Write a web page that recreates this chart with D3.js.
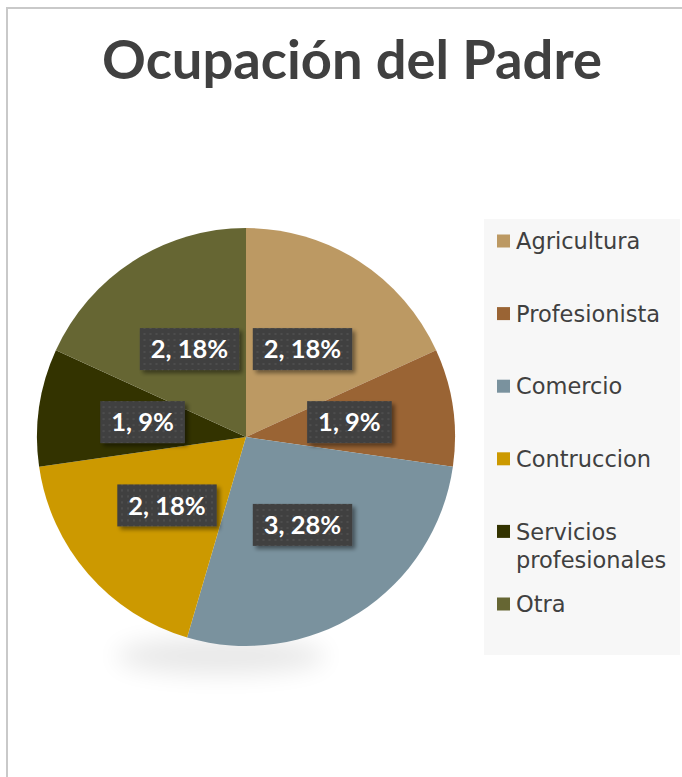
<!DOCTYPE html>
<html>
<head>
<meta charset="utf-8">
<script src="https://cdn.jsdelivr.net/npm/d3@7"></script>
<style>
  body { margin: 0; background: #fff; }
  svg { display: block; }
</style>
</head>
<body>
<svg id="chart" width="682" height="777"></svg>
<script>
// data
const categories = ["Agricultura", "Profesionista", "Comercio", "Contruccion", "Servicios profesionales", "Otra"];
const values = [2, 1, 3, 2, 1, 2];
const percentLabels = ["18%", "9%", "28%", "18%", "9%", "18%"];
const colors = ["#BC9963", "#9A6434", "#7A929E", "#CC9900", "#333300", "#666633"];
const legendLines = [["Agricultura"], ["Profesionista"], ["Comercio"], ["Contruccion"], ["Servicios", "profesionales"], ["Otra"]];

const width = 682, height = 777;
const cx = 246, cy = 437, radius = 209;

const svg = d3.select("#chart");
const defs = svg.append("defs");

// dotted pattern for label boxes
const pat = defs.append("pattern")
  .attr("id", "dots")
  .attr("patternUnits", "userSpaceOnUse")
  .attr("width", 6).attr("height", 6);
pat.append("rect").attr("width", 6).attr("height", 6).attr("fill", "#404040");
pat.append("rect").attr("x", 2).attr("y", 2).attr("width", 2).attr("height", 2).attr("fill", "#4e4e4e");

const lblShadow = defs.append("filter").attr("id", "lblShadow")
  .attr("x", "-20%").attr("y", "-30%").attr("width", "150%").attr("height", "170%");
lblShadow.append("feGaussianBlur").attr("in", "SourceAlpha").attr("stdDeviation", 2);
lblShadow.append("feOffset").attr("dx", 3).attr("dy", 3).attr("result", "b");
lblShadow.append("feComponentTransfer").append("feFuncA").attr("type", "linear").attr("slope", 0.45);
const m = lblShadow.append("feMerge");
m.append("feMergeNode");
m.append("feMergeNode").attr("in", "SourceGraphic");

const pieShadow = defs.append("filter").attr("id", "pieShadow")
  .attr("x", "-50%").attr("y", "-200%").attr("width", "200%").attr("height", "500%");
pieShadow.append("feGaussianBlur").attr("stdDeviation", 12);

// chart frame
svg.append("rect")
  .attr("x", 7).attr("y", 8)
  .attr("width", width + 10).attr("height", height + 10)
  .attr("fill", "#fff")
  .attr("stroke", "#c9c9c9")
  .attr("stroke-width", 2);

// title
const title = svg.append("text")
  .attr("x", 352).attr("y", 79)
  .attr("text-anchor", "middle")
  .attr("font-family", "Lato, 'Open Sans', sans-serif")
  .attr("font-weight", "bold")
  .attr("font-size", 52)
  .attr("fill", "#404040")
  .text("Ocupación del Padre");
// fit the title to the width seen in the picture
const tw = title.node().getComputedTextLength();
title.attr("font-size", 52 * 500 / tw);

// soft shadow under the pie
svg.append("ellipse")
  .attr("cx", cx - 25).attr("cy", cy + radius + 10)
  .attr("rx", 105).attr("ry", 18)
  .attr("fill", "#000")
  .attr("opacity", 0.09)
  .attr("filter", "url(#pieShadow)");

// pie
const pie = d3.pie().sort(null).value(d => d);
const arcs = pie(values);
const arc = d3.arc().innerRadius(0).outerRadius(radius);
const labelArc = d3.arc().innerRadius(radius / 2).outerRadius(radius / 2);

const g = svg.append("g").attr("transform", `translate(${cx},${cy})`);

g.selectAll("path.slice")
  .data(arcs)
  .enter()
  .append("path")
    .attr("class", "slice")
    .attr("d", arc)
    .attr("fill", (d, i) => colors[i]);

// data labels
const lbl = g.selectAll("g.lbl")
  .data(arcs)
  .enter()
  .append("g")
    .attr("class", "lbl")
    .attr("transform", d => `translate(${labelArc.centroid(d)})`);

lbl.append("rect").attr("fill", "url(#dots)").attr("filter", "url(#lblShadow)");

lbl.append("text")
  .attr("text-anchor", "middle")
  .attr("dy", "0.36em")
  .attr("font-family", "Lato, 'Open Sans', sans-serif")
  .attr("font-weight", "bold")
  .attr("font-size", 25.5)
  .attr("fill", "#fff")
  .text((d, i) => `${d.value}, ${percentLabels[i]}`);

lbl.each(function() {
  const t = d3.select(this).select("text").node().getComputedTextLength();
  const w = t + 22, h = 42;
  d3.select(this).select("rect")
    .attr("x", -w / 2).attr("y", -h / 2)
    .attr("width", w).attr("height", h);
});

// legend
const legend = svg.append("g");
legend.append("rect")
  .attr("x", 484).attr("y", 219)
  .attr("width", 196).attr("height", 436)
  .attr("fill", "#f7f7f7");

const ly = d3.scaleLinear().domain([0, categories.length - 1]).range([241, 604]);

const item = legend.selectAll("g.item")
  .data(categories)
  .enter()
  .append("g")
    .attr("class", "item")
    .attr("transform", (d, i) => `translate(497, ${ly(i)})`);

item.append("rect")
  .attr("x", 0).attr("y", -6.5)
  .attr("width", 13).attr("height", 13)
  .attr("fill", (d, i) => colors[i]);

item.append("text")
  .attr("x", 19)
  .attr("font-family", "'DejaVu Sans', sans-serif")
  .attr("font-size", 22.5)
  .attr("fill", "#404040")
  .selectAll("tspan")
  .data((d, i) => legendLines[i])
  .enter()
  .append("tspan")
    .attr("x", 19)
    .attr("y", (d, j) => j * 29)
    .attr("dy", "0.36em")
    .text(d => d);
</script>
</body>
</html>
